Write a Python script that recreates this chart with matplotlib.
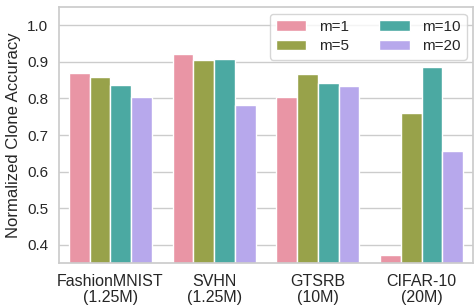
import matplotlib
matplotlib.use("Agg")
import matplotlib.pyplot as plt
import seaborn as sns
import numpy as np
import pandas as pd

datasets = ["FashionMNIST\n(1.25M)", "SVHN\n(1.25M)", "GTSRB\n(10M)", "CIFAR-10\n(20M)"]
ms = ["m=1", "m=5", "m=10", "m=20"]
m1 = [0.871, 0.922, 0.805, 0.372]
m5 = [0.858, 0.904, 0.866, 0.759]
m10 = [0.837, 0.907, 0.843, 0.885]
m20 = [0.805, 0.782, 0.834, 0.657]
colors = ["#E995A5", "#98A24A", "#4BA9A2", "#B7A8EC"]

sns.set_theme(style="whitegrid")
plt.rcParams["font.family"] = ["Liberation Sans", "DejaVu Sans"]
rows = []
for lab, vals in zip(ms, [m1, m5, m10, m20]):
    for d, v in zip(datasets, vals):
        rows.append({"dataset": d, "m": lab, "acc": v})
df = pd.DataFrame(rows)

fig, ax = plt.subplots(figsize=(4.74, 3.07), dpi=100)
sns.barplot(data=df, x="dataset", y="acc", hue="m", palette=colors, ax=ax,
            saturation=1, edgecolor="white", linewidth=1)
ax.set_ylim(0.35, 1.05)
ax.set_xlim(-0.5, 3.5)
ax.set_yticks([0.4, 0.5, 0.6, 0.7, 0.8, 0.9, 1.0])
ax.set_xlabel("")
ax.set_ylabel("Normalized Clone Accuracy", fontsize=12, labelpad=4)
ax.tick_params(axis="y", labelsize=11, pad=1.5)
ax.tick_params(axis="x", labelsize=11.5, pad=2)
for t in ax.get_xticklabels():
    t.set_linespacing(1.05)
ax.legend(ncol=2, loc="upper right", fontsize=11, columnspacing=2.0,
          handlelength=2.0, borderaxespad=0.45, labelspacing=0.35)
plt.subplots_adjust(left=0.1236, right=0.9987, top=0.977, bottom=0.1433)
fig.savefig("out.png", dpi=100)
